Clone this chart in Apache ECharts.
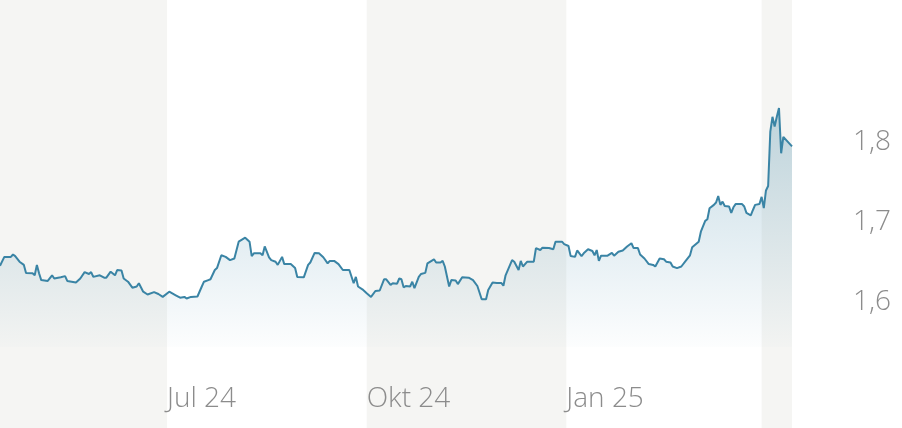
<!DOCTYPE html>
<html>
<head>
<meta charset="utf-8">
<script src="https://cdn.jsdelivr.net/npm/echarts@6/dist/echarts.min.js"></script>
<style>
html,body{margin:0;padding:0;background:#fff;}
#c{width:902px;height:428px;}
</style>
</head>
<body>
<div id="c"></div>
<script>
// Series start date; dayOffsets are days after this date
const startDate = '2024-04-15';
const endDate = '2025-04-15';
const dayOffsets = [0,2,5,6,7,9,11,12,15,16,17,18,19,22,24,25,28,30,31,33,35,37,39,41,42,43,46,48,49,51,53,54,56,57,59,61,63,64,66,68,71,73,75,78,81,83,85,86,88,91,93,94,96,97,99,100,102,104,106,108,110,113,115,116,117,120,121,122,124,125,127,128,130,131,134,136,137,140,142,143,145,147,149,151,152,154,156,158,161,163,164,165,167,169,171,173,175,177,178,180,181,183,184,185,186,187,189,190,191,193,194,196,197,200,201,203,204,205,207,208,210,211,213,216,218,220,222,224,225,227,229,231,232,233,236,237,239,240,241,243,246,247,249,250,253,255,256,259,260,262,263,265,266,268,269,271,273,274,275,276,277,280,282,283,285,287,289,291,292,294,295,297,299,301,302,304,306,307,309,310,312,314,316,318,319,322,323,325,326,327,329,330,331,332,333,334,336,337,338,339,342,343,344,346,347,348,350,351,352,353,354,355,356,357,358,359,360,361,365];
const values = [1.645,1.656,1.656,1.659,1.657,1.650,1.646,1.636,1.6355,1.633,1.646,1.6355,1.627,1.626,1.633,1.629,1.6305,1.632,1.626,1.625,1.624,1.629,1.637,1.6346,1.637,1.631,1.633,1.630,1.630,1.6375,1.633,1.6396,1.639,1.629,1.625,1.6175,1.619,1.623,1.6125,1.609,1.612,1.6096,1.606,1.6125,1.608,1.605,1.606,1.604,1.606,1.6065,1.619,1.625,1.627,1.628,1.6396,1.642,1.658,1.656,1.652,1.654,1.675,1.680,1.675,1.657,1.6605,1.6605,1.658,1.669,1.6555,1.652,1.650,1.646,1.656,1.647,1.647,1.642,1.631,1.6305,1.646,1.649,1.661,1.6605,1.6555,1.648,1.651,1.651,1.647,1.6396,1.6396,1.623,1.631,1.619,1.6155,1.6105,1.606,1.6134,1.614,1.628,1.628,1.621,1.623,1.6225,1.629,1.628,1.618,1.6196,1.619,1.625,1.617,1.631,1.6346,1.636,1.648,1.653,1.649,1.649,1.651,1.644,1.619,1.627,1.6265,1.622,1.6305,1.630,1.627,1.6196,1.603,1.603,1.6146,1.624,1.6235,1.6235,1.620,1.633,1.652,1.650,1.6396,1.651,1.644,1.650,1.650,1.667,1.6646,1.6675,1.667,1.6655,1.675,1.675,1.672,1.6696,1.657,1.656,1.664,1.657,1.6605,1.6655,1.6634,1.658,1.6646,1.651,1.6575,1.6575,1.661,1.6575,1.6625,1.664,1.669,1.673,1.667,1.667,1.659,1.654,1.647,1.646,1.644,1.654,1.653,1.650,1.649,1.644,1.642,1.644,1.651,1.658,1.668,1.675,1.6875,1.701,1.703,1.7167,1.721,1.724,1.732,1.721,1.725,1.7196,1.719,1.711,1.718,1.722,1.722,1.719,1.711,1.708,1.7146,1.721,1.722,1.731,1.717,1.739,1.7446,1.8125,1.831,1.819,1.831,1.842,1.7855,1.806,1.794];
const xTickDates = ['2024-07-01','2024-10-01','2025-01-01'];
const monthNames = ['Jan','Feb','Mär','Apr','Mai','Jun','Jul','Aug','Sep','Okt','Nov','Dez'];
const yTicks = [1.6,1.7,1.8];
// Shaded quarters
const bandRanges = [['2024-04-15','2024-07-01'],['2024-10-01','2025-01-01'],['2025-04-01','2025-04-15']];

const DAY = 86400000;
const toTime = s => Date.UTC(+s.slice(0,4), +s.slice(5,7) - 1, +s.slice(8,10));
const t0 = toTime(startDate);
const toDay = s => Math.round((toTime(s) - t0) / DAY);
const seriesData = dayOffsets.map((d, i) => [d, values[i]]);
const fmtDate = s => {
  const d = new Date(toTime(s));
  return monthNames[d.getUTCMonth()] + ' ' + String(d.getUTCFullYear()).slice(2);
};

const chart = echarts.init(document.getElementById('c'), null, {renderer: 'canvas'});
const labelFont = {fontFamily: '"Open Sans", sans-serif', fontSize: 28, fontWeight: 300, color: '#8c8c8c'};
const GRID_BOTTOM = 81, X_LABEL_MARGIN = 38;

chart.setOption({
  animation: false,
  backgroundColor: '#ffffff',
  grid: [
    {left: 0, right: 110, top: 0, bottom: GRID_BOTTOM, containLabel: false},
    {left: 0, right: 110, top: 0, bottom: 0, containLabel: false}
  ],
  xAxis: [
    {
      type: 'value', gridIndex: 0,
      min: 0, max: toDay(endDate),
      axisLine: {show: false}, axisTick: {show: false}, splitLine: {show: false},
      axisLabel: {show: false}
    },
    {
      type: 'value', gridIndex: 1, show: false,
      min: 0, max: toDay(endDate)
    }
  ],
  yAxis: [
    {
      type: 'value', gridIndex: 0, position: 'right',
      min: 1.5434, max: 1.977,
      axisLine: {show: false}, axisTick: {show: false}, splitLine: {show: false},
      axisLabel: Object.assign({
        customValues: yTicks,
        margin: 61,
        align: 'left',
        formatter: v => v.toFixed(1).replace('.', ',')
      }, labelFont)
    },
    {type: 'value', gridIndex: 1, show: false, min: 0, max: 1}
  ],
  series: [
    {
      type: 'line', xAxisIndex: 1, yAxisIndex: 1, z: 1,
      data: [[0, -1]], symbol: 'none', silent: true,
      lineStyle: {opacity: 0},
      markArea: {
        silent: true,
        itemStyle: {color: '#f5f5f3'},
        data: bandRanges.map(r => [{xAxis: toDay(r[0])}, {xAxis: toDay(r[1])}])
      }
    },
    {
      type: 'line', xAxisIndex: 0, yAxisIndex: 0, z: 3,
      data: seriesData, symbol: 'none', smooth: false,
      lineStyle: {color: '#3a84a5', width: 2},
      areaStyle: {
        color: new echarts.graphic.LinearGradient(0, 0, 0, 1, [
          {offset: 0, color: 'rgba(58,132,165,0.42)'},
          {offset: 1, color: 'rgba(58,132,165,0.02)'}
        ])
      }
    }
  ]
});

// X-axis date labels placed through the axis scale
const labelTop = chart.getHeight() - GRID_BOTTOM + X_LABEL_MARGIN;
chart.setOption({
  graphic: xTickDates.map(s => ({
    type: 'text',
    x: chart.convertToPixel({xAxisIndex: 0}, toDay(s)),
    y: labelTop,
    z: 10,
    style: {
      text: fmtDate(s),
      fill: labelFont.color,
      font: '300 28px "Open Sans", sans-serif',
      textAlign: 'left',
      textVerticalAlign: 'top'
    }
  }))
});
</script>
</body>
</html>
